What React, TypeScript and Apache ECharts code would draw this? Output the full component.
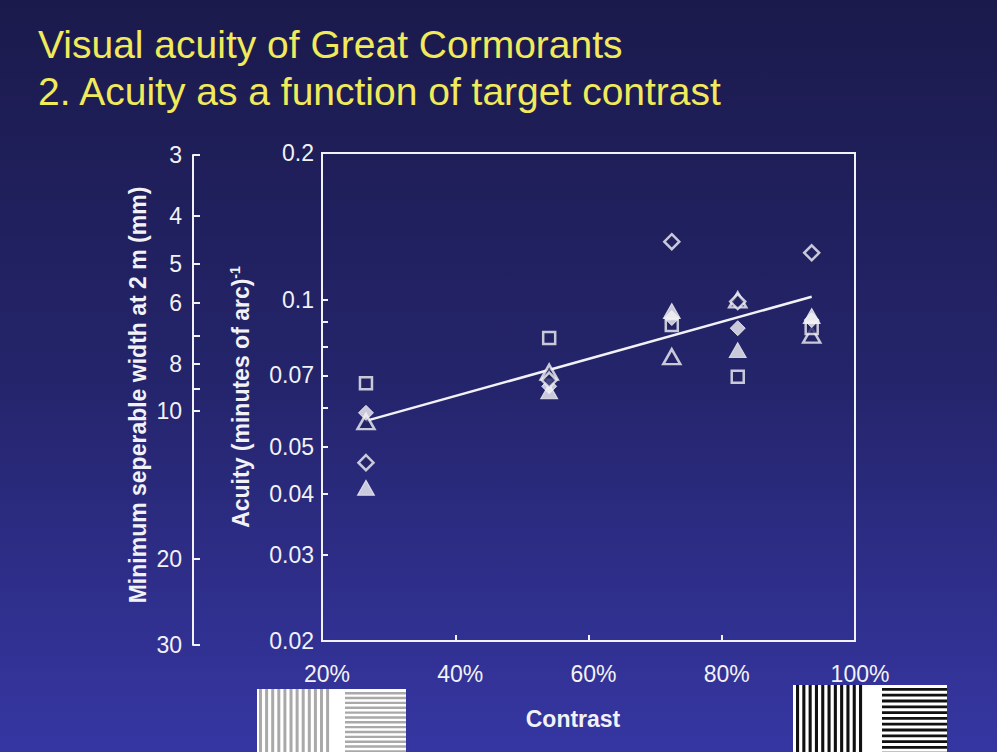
import React, { useEffect, useRef } from 'react';
import * as echarts from 'echarts';

// ---- data ----
const contrastLevels = [26.6, 54.1, 72.5, 82.4, 93.5];
const openSquare = [0.0675, 0.0835, 0.0888, 0.0696, 0.0876];
const openDiamond = [0.0464, 0.0685, 0.1316, 0.0992, 0.1249];
const filledDiamond = [0.0587, 0.0665, 0.0918, 0.0875, 0.0909];
const openTriangle = [0.0563, 0.0711, 0.0765, 0.1, 0.0847];
const filledTriangle = [0.0412, 0.065, 0.0949, 0.0789, 0.0927];
const fitContrast = [26.6, 93.5];
const fitAcuity = [0.0565, 0.1015];

const acuityTicks = [0.02, 0.03, 0.04, 0.05, 0.06, 0.07, 0.08, 0.09, 0.1, 0.2];
const acuityLabels = [0.02, 0.03, 0.04, 0.05, 0.07, 0.1, 0.2];
const widthTicks = [3, 4, 5, 6, 7, 8, 9, 10, 20, 30];
const widthLabels = [3, 4, 5, 6, 8, 10, 20, 30];

const FONT = '"Liberation Sans", Arial, sans-serif';
const WHITE = '#f2f2f6';
const OPEN_FILL = '#232364';

const lg = (v: number) => Math.log10(v);

function pts(vals: number[]) {
  return contrastLevels.map((c, i) => [c, lg(vals[i])]);
}

function stripes(x0: number, x1: number, y0: number, y1: number, vertical: boolean, period: number, thick: number, start: number, color: string) {
  const out: any[] = [];
  if (vertical) {
    for (let x = start; x + thick <= x1 + 0.01; x += period) {
      out.push({ type: 'rect', shape: { x, y: y0, width: thick, height: y1 - y0 }, style: { fill: color } });
    }
  } else {
    for (let y = start; y < y1; y += period) {
      out.push({ type: 'rect', shape: { x: x0, y, width: x1 - x0, height: Math.min(thick, y1 - y) }, style: { fill: color } });
    }
  }
  return out;
}

export default function App() {
  const ref = useRef<HTMLDivElement>(null);
  useEffect(() => {
    if (!ref.current) return;
    const chart = echarts.init(ref.current, undefined, { renderer: 'svg' });

    const openStyle = { color: OPEN_FILL, borderColor: WHITE, borderWidth: 2.5 };
    const filledStyle = { color: WHITE, borderColor: WHITE, borderWidth: 1 };

    const leftGrating = [
      { type: 'rect', shape: { x: 257, y: 689, width: 149, height: 63 }, style: { fill: '#ffffff' } },
      ...stripes(257, 330, 689, 752, true, 6.1, 3, 259, '#a9a9a9'),
      ...stripes(345, 406, 689, 752, false, 4.85, 2.4, 692, '#a9a9a9'),
    ];
    const rightGrating = [
      { type: 'rect', shape: { x: 793, y: 685, width: 154, height: 67 }, style: { fill: '#ffffff' } },
      ...stripes(793, 868, 685, 752, true, 6.3, 3.1, 796, '#111111'),
      ...stripes(882, 947, 685, 752, false, 5.8, 2.8, 688, '#111111'),
    ];

    chart.setOption({
      animation: false,
      backgroundColor: {
        type: 'linear', x: 0, y: 0, x2: 0, y2: 1,
        colorStops: [
          { offset: 0, color: '#1b1a4c' },
          { offset: 0.5, color: '#24246b' },
          { offset: 1, color: '#3636a3' },
        ],
      },
      title: {
        text: 'Visual acuity of Great Cormorants\n2. Acuity as a function of target contrast',
        left: 33,
        top: 16,
        textStyle: { color: '#f1ea5a', fontSize: 39, fontWeight: 'normal', fontFamily: FONT, lineHeight: 47 },
      },
      grid: [
        { left: 322, top: 153, width: 533, height: 488, show: true, borderColor: WHITE, borderWidth: 2, backgroundColor: 'transparent' },
        { left: 193, top: 155, width: 20, height: 490, show: false },
      ],
      xAxis: [
        {
          gridIndex: 0, type: 'value', min: 20, max: 100, interval: 20,
          axisLine: { show: true, lineStyle: { color: WHITE, width: 2 } },
          axisTick: { show: true, inside: true, length: 6, lineStyle: { color: WHITE, width: 2 } },
          axisLabel: { color: WHITE, fontSize: 23, fontFamily: FONT, margin: 21, formatter: '{value}%', padding: [0, 0, 0, 10] },
          splitLine: { show: false },
        },
        { gridIndex: 1, type: 'value', show: false, min: 0, max: 1 },
      ],
      yAxis: [
        {
          gridIndex: 0, type: 'value', min: lg(0.02), max: lg(0.2),
          axisLine: { show: true, lineStyle: { color: WHITE, width: 2 } },
          axisTick: { show: true, inside: true, length: 6, lineStyle: { color: WHITE, width: 2 }, customValues: acuityTicks.map(lg) },
          axisLabel: {
            color: WHITE, fontSize: 23, fontFamily: FONT, margin: 8,
            customValues: acuityLabels.map(lg),
            formatter: (v: number) => String(parseFloat(Math.pow(10, v).toFixed(3))),
          },
          splitLine: { show: false },
        },
        {
          gridIndex: 1, type: 'value', inverse: true, min: lg(3), max: lg(30),
          axisLine: { show: true, lineStyle: { color: WHITE, width: 2 } },
          axisTick: { show: true, inside: true, length: 7, lineStyle: { color: WHITE, width: 2 }, customValues: widthTicks.map(lg) },
          axisLabel: {
            color: WHITE, fontSize: 23, fontFamily: FONT, margin: 11,
            customValues: widthLabels.map(lg),
            formatter: (v: number) => String(Math.round(Math.pow(10, v))),
          },
          splitLine: { show: false },
        },
      ],
      series: [
        {
          type: 'line', xAxisIndex: 0, yAxisIndex: 0, data: fitContrast.map((c, i) => [c, lg(fitAcuity[i])]),
          showSymbol: false, symbol: 'none', lineStyle: { color: WHITE, width: 2.5 }, z: 2,
        },
        { type: 'scatter', name: 'open triangle', data: pts(openTriangle), symbol: 'triangle', symbolSize: [17, 15], itemStyle: openStyle, z: 3 },
        { type: 'scatter', name: 'open square', data: pts(openSquare), symbol: 'rect', symbolSize: 12, itemStyle: openStyle, z: 4 },
        { type: 'scatter', name: 'filled triangle', data: pts(filledTriangle), symbol: 'triangle', symbolSize: [17, 15], itemStyle: filledStyle, z: 5 },
        { type: 'scatter', name: 'filled diamond', data: pts(filledDiamond), symbol: 'diamond', symbolSize: 15, itemStyle: filledStyle, z: 6 },
        { type: 'scatter', name: 'open diamond', data: pts(openDiamond), symbol: 'diamond', symbolSize: 15, itemStyle: openStyle, z: 7 },
      ],
      graphic: [
        {
          type: 'text', x: 138, y: 395, rotation: Math.PI / 2,
          style: { text: 'Minimum seperable width at 2 m (mm)', fill: WHITE, font: `bold 23px ${FONT}`, align: 'center', verticalAlign: 'middle' },
        },
        {
          type: 'text', x: 241, y: 397, rotation: Math.PI / 2,
          style: {
            text: 'Acuity (minutes of arc){sup|-1}', fill: WHITE, font: `bold 23px ${FONT}`, align: 'center', verticalAlign: 'middle',
            rich: { sup: { fontSize: 14, fontWeight: 'bold', fontFamily: FONT, fill: WHITE, verticalAlign: 'top', lineHeight: 26 } },
          },
        },
        {
          type: 'text', x: 573, y: 719,
          style: { text: 'Contrast', fill: WHITE, font: `bold 23px ${FONT}`, align: 'center', verticalAlign: 'middle' },
        },
        { type: 'group', z: 100, children: leftGrating },
        { type: 'group', z: 100, children: rightGrating },
      ],
    });
    return () => chart.dispose();
  }, []);
  return <div ref={ref} style={{ position: 'fixed', left: 0, top: 0, width: 997, height: 752 }} />;
}
